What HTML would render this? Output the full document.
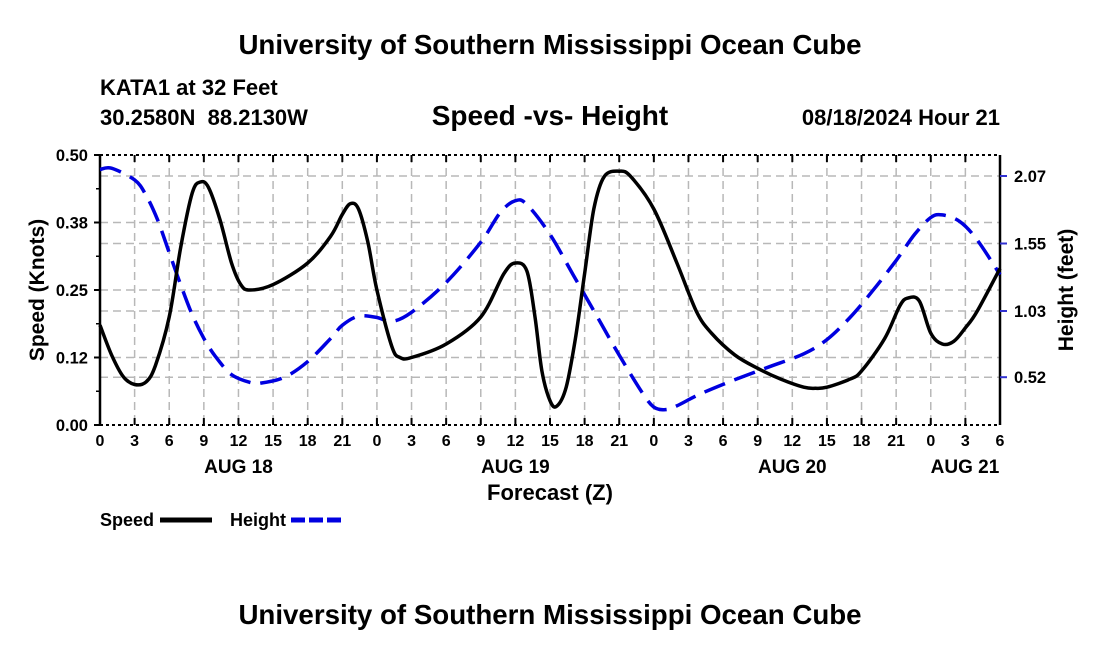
<!DOCTYPE html>
<html><head><meta charset="utf-8"><style>
body{margin:0;background:#fff;}
svg{display:block;font-family:"Liberation Sans",Arial,sans-serif;font-weight:bold;}
</style></head><body>
<svg id="c" width="1100" height="650" viewBox="0 0 1100 650">
<text x="550" y="54" text-anchor="middle" font-size="27.7">University of Southern Mississippi Ocean Cube</text>
<text x="100" y="95" font-size="22">KATA1 at 32 Feet</text>
<text x="100" y="125" font-size="22">30.2580N&#160;&#160;88.2130W</text>
<text x="550" y="125" text-anchor="middle" font-size="28">Speed -vs- Height</text>
<text x="1000" y="125" text-anchor="end" font-size="22">08/18/2024 Hour 21</text>
<g id="grid"></g>
<g id="axes"></g>
<path id="hline" fill="none" stroke="#0000e0" stroke-width="3.5" stroke-dasharray="22,10"/>
<path id="sline" fill="none" stroke="#000" stroke-width="3.5"/>
<text x="44" y="290" text-anchor="middle" font-size="21" transform="rotate(-90 44 290)">Speed (Knots)</text>
<text x="1073" y="290" text-anchor="middle" font-size="21" transform="rotate(-90 1073 290)">Height (feet)</text>
<text x="550" y="500" text-anchor="middle" font-size="22">Forecast (Z)</text>
<g>
<text x="100" y="526" font-size="18">Speed</text>
<line x1="160" y1="520" x2="212" y2="520" stroke="#000" stroke-width="5"/>
<text x="230" y="526" font-size="18">Height</text>
<line x1="291" y1="520" x2="343" y2="520" stroke="#0000e0" stroke-width="5" stroke-dasharray="14,4"/>
</g>
<text x="550" y="624" text-anchor="middle" font-size="27.7">University of Southern Mississippi Ocean Cube</text>
</svg>
<script>
const speedHours=[0,1,2,3,4,4.8,6,7,8,8.7,9.4,10.4,11.4,12.2,13,15,18,20,21,21.7,22.4,23.2,24,25.3,26,27,30,33,35,36,37,37.7,38.3,39,39.6,40.4,41.2,42,42.8,43.7,45,46,48,50,51.7,53,55,57,59,61,62,63,65,66,68,69.3,70,71,72,73,74,75,76,78];
const speedValues=[0.185,0.13,0.09,0.075,0.08,0.11,0.20,0.33,0.43,0.45,0.44,0.38,0.30,0.26,0.25,0.26,0.30,0.35,0.39,0.41,0.40,0.34,0.25,0.145,0.125,0.125,0.15,0.20,0.28,0.30,0.285,0.20,0.10,0.045,0.035,0.07,0.16,0.28,0.40,0.46,0.47,0.46,0.40,0.30,0.21,0.17,0.13,0.105,0.085,0.07,0.068,0.07,0.085,0.10,0.16,0.22,0.235,0.23,0.17,0.15,0.155,0.18,0.21,0.29];
const heightHours=[0,1,3,4,5,6,7,8,9,10,11.4,13,14,16,18,20,21,22.4,24,25.3,27,30,33,34.7,36,37,39,41,43,45,47,48,49,50,52,55,58,61,63,65,67,69,70.6,72,73,74.5,76,78];
const heightValues=[2.12,2.13,2.04,1.92,1.73,1.48,1.23,1.00,0.82,0.68,0.54,0.48,0.475,0.52,0.64,0.82,0.92,0.99,0.98,0.95,1.02,1.25,1.56,1.79,1.88,1.85,1.62,1.31,1.00,0.69,0.40,0.29,0.27,0.30,0.39,0.50,0.60,0.70,0.81,0.98,1.19,1.42,1.62,1.75,1.77,1.72,1.58,1.31];
const leftTicks=["0.00","0.12","0.25","0.38","0.50"];
const rightTicks=["0.52","1.03","1.55","2.07"];
const xLabels=["0","3","6","9","12","15","18","21","0","3","6","9","12","15","18","21","0","3","6","9","12","15","18","21","0","3","6"];
const dayLabels=["AUG 18","AUG 19","AUG 20","AUG 21"];
const X0=100,X1=1000,Y0=425,Y1=155,HMAX=78;
const x=h=>X0+(X1-X0)*h/HMAX;
const yS=v=>Y0-(Y0-Y1)*v/0.5;
const yH=v=>311-(v-1.03)*129.8;
const NS="http://www.w3.org/2000/svg";
function mk(t,a,p){const e=document.createElementNS(NS,t);for(const k in a)e.setAttribute(k,a[k]);p.appendChild(e);return e;}
const grid=document.getElementById('grid'),axes=document.getElementById('axes');
const gs={stroke:"#b8b8b8","stroke-width":1.5,"stroke-dasharray":"8,5"};
for(let i=1;i<xLabels.length-1;i++){const l=mk('line',Object.assign({x1:x(i*3),x2:x(i*3),y1:Y1,y2:Y0},gs),grid);}
for(let i=1;i<4;i++){const l=mk('line',Object.assign({x1:X0,x2:X1,y1:yS(i*0.125),y2:yS(i*0.125)},gs),grid);}
rightTicks.forEach(t=>{const l=mk('line',Object.assign({x1:X0,x2:X1,y1:yH(+t),y2:yH(+t)},gs),grid);});
mk('line',{x1:X0,x2:X1,y1:Y1,y2:Y1,stroke:"#000","stroke-width":2,"stroke-dasharray":"3,3"},axes);
mk('line',{x1:X0,x2:X1,y1:Y0,y2:Y0,stroke:"#000","stroke-width":2,"stroke-dasharray":"3,3"},axes);
mk('line',{x1:X0,x2:X0,y1:Y1,y2:Y0,stroke:"#000","stroke-width":2.5},axes);
mk('line',{x1:X1,x2:X1,y1:Y1,y2:Y0,stroke:"#000","stroke-width":2.5},axes);
leftTicks.forEach((t,i)=>{const y=yS(i*0.125);mk('line',{x1:X0-6,x2:X0,y1:y,y2:y,stroke:"#000","stroke-width":2},axes);
 const tx=mk('text',{x:X0-12,y:y+6,"text-anchor":"end","font-size":16.5},axes);tx.textContent=t;
 
 if(i<4){const ym=yS(i*0.125+0.0625);mk('line',{x1:X0-4,x2:X0,y1:ym,y2:ym,stroke:"#000","stroke-width":1.5},axes);}});
rightTicks.forEach(t=>{const y=yH(+t);mk('line',{x1:X1,x2:X1+7,y1:y,y2:y,stroke:"#3030d0","stroke-width":2},axes);
 const tx=mk('text',{x:X1+14,y:y+6,"font-size":16.5},axes);tx.textContent=t;
 });
xLabels.forEach((t,i)=>{const xx=x(i*3);mk('line',{x1:xx,x2:xx,y1:Y0,y2:Y0-7,stroke:"#000","stroke-width":2},axes);mk('line',{x1:xx,x2:xx,y1:Y1,y2:Y1+7,stroke:"#000","stroke-width":2},axes);
 const tx=mk('text',{x:xx,y:Y0+21,"text-anchor":"middle","font-size":16},axes);tx.textContent=t;
 });
dayLabels.forEach((t,i)=>{const xx=Math.min(x(i*24+12),X1-35);const tx=mk('text',{x:xx,y:Y0+48,"text-anchor":"middle","font-size":19},axes);tx.textContent=t;
 });
function path(hs,vs,yf){const p=hs.map((h,i)=>[x(h),yf(vs[i])]);let d='M'+p[0][0].toFixed(1)+','+p[0][1].toFixed(1);
 for(let i=0;i<p.length-1;i++){const a=p[Math.max(0,i-1)],b=p[i],c=p[i+1],e=p[Math.min(p.length-1,i+2)];
  const c1=[b[0]+(c[0]-a[0])/6,b[1]+(c[1]-a[1])/6],c2=[c[0]-(e[0]-b[0])/6,c[1]-(e[1]-b[1])/6];
  d+='C'+c1.map(v=>v.toFixed(1)).join(',')+' '+c2.map(v=>v.toFixed(1)).join(',')+' '+c[0].toFixed(1)+','+c[1].toFixed(1);}
 return d;}
document.getElementById('sline').setAttribute('d',path(speedHours,speedValues,yS));
document.getElementById('hline').setAttribute('d',path(heightHours,heightValues,yH));
</script>
</body></html>
